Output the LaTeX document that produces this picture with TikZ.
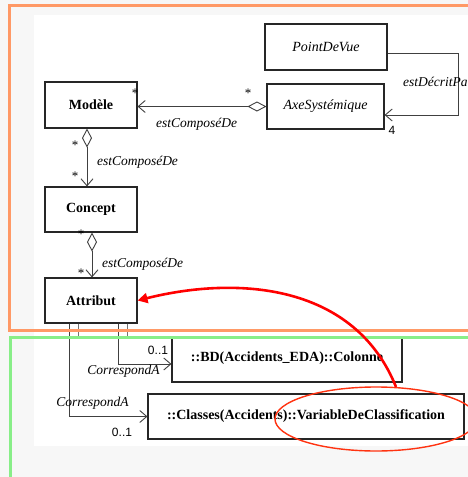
\documentclass[tikz,border=0pt]{standalone}
\usepackage{fontspec}
\setmainfont{Liberation Serif}
\newfontfamily\multfont{Liberation Sans}
\usetikzlibrary{arrows.meta,shapes.geometric}

\definecolor{paper}{HTML}{F7F7F7}
\definecolor{frameorange}{HTML}{FF9966}
\definecolor{framegreen}{HTML}{88EE88}
\definecolor{markred}{HTML}{FF3311}

\tikzset{classe/.style={draw=black!85,line width=1.1pt,rectangle,inner sep=0pt,
		font=\fontsize{14}{16}\selectfont\bfseries},
	abstraite/.style={classe,font=\fontsize{14}{16}\selectfont\itshape},
	role/.style={inner sep=0pt,font=\fontsize{13.5}{16}\selectfont\itshape},
	mult/.style={inner sep=0pt,font=\multfont\fontsize{12}{14}\selectfont},
	etoile/.style={inner sep=0pt,font=\fontsize{13}{13}\selectfont}
}
\tikzstyle{assoc}=[draw=black!75,line width=0.9pt]
\tikzstyle{nav}=[assoc,-{Straight Barb[length=7pt,width=12pt]}]
\tikzstyle{compo}=[assoc,{Diamond[open,length=19pt,width=10pt]}-{Straight Barb[length=7pt,width=12pt]}]

\begin{document}
\begin{tikzpicture}[x=1pt,y=-1pt]
	\useasboundingbox (0,0) rectangle (468,477);
	\clip (0,0) rectangle (468,477);
	\fill[paper] (0,0) rectangle (468,477);
	\fill[white] (34,15) rectangle (470,446);
	
	% classes of the model
	\node (Modele)[classe, minimum width=92pt, minimum height=46pt] at (91,105) {Modèle};
	\node (Concept)[classe, minimum width=92pt, minimum height=45pt] at (91,209.5) {Concept};
	\node (Attribut)[classe, minimum width=92pt, minimum height=45pt] at (91,300.5) {Attribut};
	\node (Vue)[abstraite, minimum width=122pt, minimum height=46pt] at (326,47) {PointDeVue};
	\node (Axe)[abstraite, minimum width=117pt, minimum height=45pt] at (325.5,106.5) {AxeSystémique};
	\node (Colonne)[classe, minimum width=230pt, minimum height=44pt] at (287,360) {};
	\node (ColonneNom)[classe, draw=none] at (287,358) {::BD(Accidents\_EDA)::Colonne};
	\node (Classes)[classe, minimum width=316pt, minimum height=45pt] at (306,416.5) {::Classes(Accidents)::VariableDeClassification};
	
	% associations
	\draw[compo] (Axe.west) -- (Modele.east |- Axe.west);
	\coordinate (coin) at (458,53);
	\draw[nav] ([yshift=-6pt]Vue.east) -- (coin) |- ([yshift=-8.5pt]Axe.east);
	\draw[compo] ([xshift=-4pt]Modele.south) -- ([xshift=-4pt]Concept.north);
	\draw[compo] ([xshift=1pt]Concept.south) -- ([xshift=1pt]Attribut.north);
	\draw[nav] ([xshift=27pt]Attribut.south) |- ([yshift=-4pt]Colonne.west);
	\draw[nav] ([xshift=-22pt]Attribut.south) |- (Classes.west);
	\foreach \dx in {-13,36}{
		\draw[assoc,draw=black!55] ([xshift=\dx pt]Attribut.south) -- ++(0,15);
	}
	
	% roles and multiplicities
	\foreach \nom/\x/\y in {s1/135/93, s2/248/93, s3/75/145, s4/75/176, s5/81/234, s6/81/273}{
		\node (\nom)[etoile] at (\x,\y) {*};
	}
	\node (r1)[role] at (196.5,124) {estComposéDe};
	\node (r2)[role] at (137.5,162) {estComposéDe};
	\node (r3)[role] at (142.5,264) {estComposéDe};
	\node (r4)[role, anchor=west] at (403,82) {estDécritPar};
	\node (r5)[role] at (123.5,371) {CorrespondA};
	\node (r6)[role] at (92.5,403) {CorrespondA};
	\node (m1)[mult] at (392,130) {4};
	\node (m2)[mult] at (158,350) {0..1};
	\node (m3)[mult] at (122,432) {0..1};
	
	% frames
	\draw[frameorange, line width=3pt] (480,5.5) -| (9.5,330) -- (480,330);
	\draw[framegreen, line width=3pt] (480,337.5) -| (10,490);
	
	% annotation
	\node (cercle)[draw=markred, line width=1.4pt, ellipse, minimum width=202pt, minimum height=64pt] at (376,419) {};
	\draw[red, line width=2.6pt, -{Triangle[length=10pt,width=10pt]}] (cercle.58) .. controls (355,285) and (240,275) .. (Attribut.east);
\end{tikzpicture}
\end{document}
